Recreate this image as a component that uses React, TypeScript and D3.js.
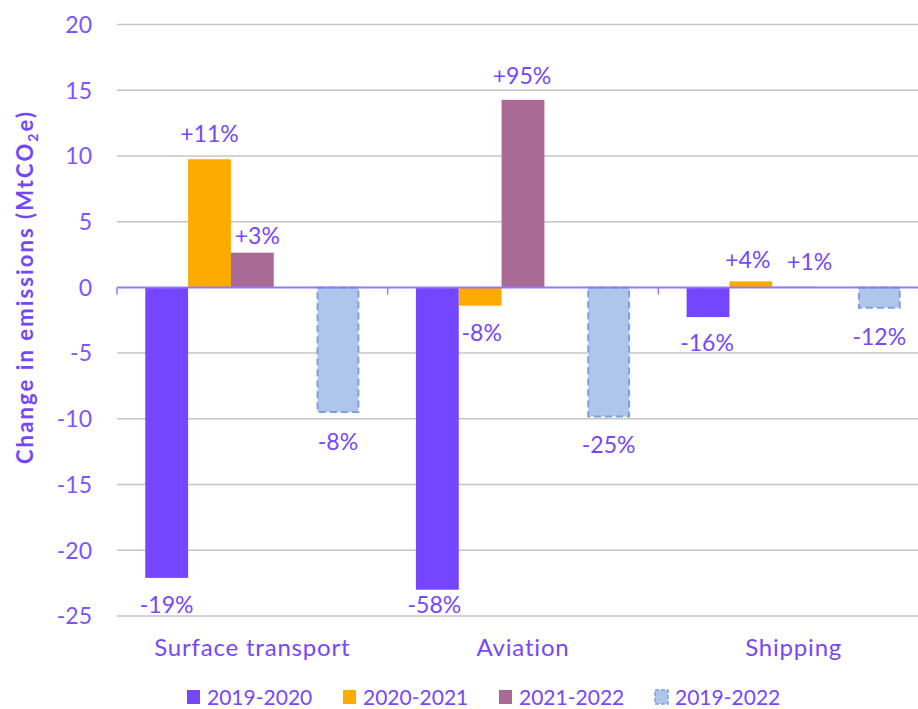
import React from 'react';
import * as d3 from 'd3';

const categories = ['Surface transport', 'Aviation', 'Shipping'];
const seriesNames = ['2019-2020', '2020-2021', '2021-2022', '2019-2022'];
const values2019_2020 = [-22.1, -23.0, -2.26];
const values2020_2021 = [9.75, -1.39, 0.46];
const values2021_2022 = [2.64, 14.27, 0.05];
const values2019_2022 = [-9.56, -9.9, -1.62];
const pct2019_2020 = ['-19%', '-58%', '-16%'];
const pct2020_2021 = ['+11%', '-8%', '+4%'];
const pct2021_2022 = ['+3%', '+95%', '+1%'];
const pct2019_2022 = ['-8%', '-25%', '-12%'];
const yTicks = [-25, -20, -15, -10, -5, 0, 5, 10, 15, 20];

const W = 918;
const H = 709;
const PURPLE = '#7446FF';
const TEXT = '#7548FF';
const colors = ['#7446FF', '#FFAA00', '#A96B96', '#AEC6EB'];
const slotOf = [0, 1, 2, 4];
// label nudges (gap from bar end to label centre, horizontal shift)
const labelGap = [[27, 15, 26], [26, 27, 22], [17, 24, 25], [29, 27, 28]];
const labelDx = [[0, -3, -1], [0, 1.5, -3], [5, -1, 16], [0, 0, 0]];

const FONT = 'Lato, "Noto Sans", sans-serif';

export default function App() {
  const series = [
    { name: seriesNames[0], values: values2019_2020, labels: pct2019_2020 },
    { name: seriesNames[1], values: values2020_2021, labels: pct2020_2021 },
    { name: seriesNames[2], values: values2021_2022, labels: pct2021_2022 },
    { name: seriesNames[3], values: values2019_2022, labels: pct2019_2022 },
  ];

  const plotLeft = 117;
  const plotRight = 929;
  const y = d3.scaleLinear().domain([-25, 20]).range([616, 24.5]);
  const x = d3.scaleBand<string>().domain(categories).range([plotLeft, plotRight]).padding(0);
  const slot = d3
    .scaleBand<number>()
    .domain([0, 1, 2, 3, 4])
    .range([0, x.bandwidth()])
    .paddingInner(0)
    .paddingOuter(0.66);

  const y0 = y(0);

  const legendStep = 156;
  const legendStart = 187;

  return (
    <svg
      width={W}
      height={H}
      style={{ position: 'absolute', left: 0, top: 0, display: 'block', background: '#fff' }}
      fontFamily={FONT}
    >
      {/* gridlines */}
      {yTicks
        .filter((t) => t !== 0)
        .map((t) => (
          <line key={'g' + t} x1={plotLeft} x2={plotRight} y1={y(t)} y2={y(t)} stroke="#C6C6C6" strokeWidth={1.5} />
        ))}
      {/* y tick labels */}
      {yTicks.map((t) => (
        <text
          key={'t' + t}
          x={92}
          y={y(t)}
          dy="0.36em"
          textAnchor="end"
          fontSize={23}
          fill="#7B55FF"
        >
          {t}
        </text>
      ))}
      {/* y-axis title */}
      <text
        transform={`translate(33, 287) rotate(-90)`}
        textAnchor="middle"
        fontSize={22}
        fontWeight={700}
        fill={PURPLE}
        letterSpacing={2.1}
      >
        Change in emissions (MtCO
        <tspan fontSize={14} dy={5}>
          2
        </tspan>
        <tspan dy={-5}>e)</tspan>
      </text>
      {/* bars */}
      {series.map((s, si) =>
        categories.map((c, ci) => {
          const v = s.values[ci];
          const bx = (x(c) as number) + (slot(slotOf[si]) as number);
          const bw = slot.bandwidth();
          const top = Math.min(y(v), y0);
          const h = Math.abs(y(v) - y0);
          const dashed = si === 3;
          return (
            <rect
              key={`b${si}-${ci}`}
              x={dashed ? bx + 1 : bx}
              y={top}
              width={dashed ? bw - 2 : bw}
              height={dashed ? Math.max(h - 1, 0) : h}
              fill={colors[si]}
              stroke={dashed ? '#7CA0E2' : 'none'}
              strokeWidth={dashed ? 2 : 0}
              strokeDasharray={dashed ? '7 4' : undefined}
            />
          );
        })
      )}
      {/* zero axis */}
      <line x1={plotLeft} x2={plotRight} y1={y0} y2={y0} stroke="#9677FF" strokeWidth={2} />
      {x.domain().concat(['__end']).map((c, i) => {
        const xx = c === '__end' ? plotRight : (x(c) as number);
        return <line key={'tk' + i} x1={xx} x2={xx} y1={y0} y2={y0 + 7} stroke="#9677FF" strokeWidth={1.5} />;
      })}
      {/* value labels */}
      {series.map((s, si) =>
        categories.map((c, ci) => {
          const v = s.values[ci];
          const cx = (x(c) as number) + (slot(slotOf[si]) as number) + slot.bandwidth() / 2 + labelDx[si][ci];
          const cy = v >= 0 ? y(v) - labelGap[si][ci] : y(v) + labelGap[si][ci];
          return (
            <text
              key={`l${si}-${ci}`}
              x={cx}
              y={cy}
              dy="0.36em"
              textAnchor="middle"
              fontSize={23}
              fill={TEXT}
            >
              {s.labels[ci]}
            </text>
          );
        })
      )}
      {/* category labels */}
      {categories.map((c) => (
        <text
          key={'c' + c}
          x={(x(c) as number) + x.bandwidth() / 2}
          y={656}
          textAnchor="middle"
          fontSize={24}
          letterSpacing={0.8}
          fill={TEXT}
        >
          {c}
        </text>
      ))}
      {/* legend */}
      {seriesNames.map((n, i) => {
        const lx = legendStart + i * legendStep;
        return (
          <g key={'lg' + n} transform={`translate(${lx}, 697)`}>
            <rect
              x={0}
              y={-7}
              width={13}
              height={14}
              fill={colors[i]}
              stroke={i === 3 ? '#7CA0E2' : 'none'}
              strokeWidth={i === 3 ? 1.5 : 0}
              strokeDasharray={i === 3 ? '4 2' : undefined}
            />
            <text x={20} y={0} dy="0.36em" fontSize={21} fill={TEXT}>
              {n}
            </text>
          </g>
        );
      })}
    </svg>
  );
}
